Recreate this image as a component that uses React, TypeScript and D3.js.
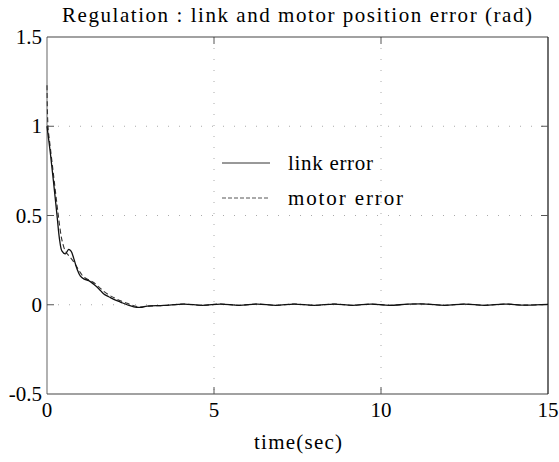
import { useEffect, useRef } from 'react';
import * as d3 from 'd3';

const linkTime = [0, 0.1, 0.2, 0.3, 0.38, 0.45, 0.55, 0.65, 0.72, 0.8, 0.9, 1.0, 1.1, 1.25, 1.4, 1.55, 1.7, 1.85, 2.0, 2.2, 2.4, 2.6, 2.8, 3.0, 3.5, 4.1, 4.65, 5.2, 5.75, 6.3, 6.85, 7.4, 8.0, 8.6, 9.15, 9.7, 10.25, 10.8, 11.35, 11.9, 12.5, 13.1, 13.7, 14.3, 15];
const linkErr = [1.0, 0.85, 0.68, 0.5, 0.36, 0.3, 0.285, 0.31, 0.30, 0.26, 0.2, 0.16, 0.145, 0.135, 0.115, 0.09, 0.06, 0.045, 0.03, 0.015, 0.0, -0.012, -0.015, -0.008, -0.004, 0.004, -0.003, 0.004, -0.003, 0.004, -0.003, 0.004, -0.003, 0.004, -0.003, 0.004, -0.003, 0.003, 0.004, -0.003, 0.004, -0.003, 0.004, -0.002, 0.002];

const motorTime = [0, 0.03, 0.1, 0.2, 0.3, 0.38, 0.45, 0.55, 0.65, 0.72, 0.8, 0.9, 1.0, 1.1, 1.25, 1.4, 1.55, 1.7, 1.85, 2.0, 2.2, 2.4, 2.6, 2.8, 3.0, 3.5, 4.1, 4.65, 5.2, 5.75, 6.3, 6.85, 7.4, 8.0, 8.6, 9.15, 9.7, 10.25, 10.8, 11.35, 11.9, 12.5, 13.1, 13.7, 14.3, 15];
const motorErr = [1.23, 1.0, 0.88, 0.72, 0.56, 0.44, 0.36, 0.3, 0.275, 0.26, 0.24, 0.21, 0.18, 0.155, 0.14, 0.125, 0.1, 0.075, 0.055, 0.04, 0.022, 0.008, -0.006, -0.012, -0.008, -0.004, 0.004, -0.003, 0.004, -0.003, 0.004, -0.003, 0.004, -0.003, 0.004, -0.003, 0.004, -0.003, 0.003, 0.004, -0.003, 0.004, -0.003, 0.004, -0.002, 0.002];

const xTicks = [0, 5, 10, 15];
const yTicks = [-0.5, 0, 0.5, 1, 1.5];
const yTickLabels = ['-0.5', '0', '0.5', '1', '1.5'];

const W = 559;
const H = 462;

export default function App() {
  const svgRef = useRef<SVGSVGElement>(null);

  useEffect(() => {
    if (!svgRef.current) return;
    const svg = d3.select(svgRef.current);
    svg.selectAll('*').remove();

    const left = 47, right = 548, top = 37, bottom = 394;
    const font = '"Times New Roman", Times, "Liberation Serif", "DejaVu Serif", serif';

    const x = d3.scaleLinear().domain([0, 15]).range([left, right]);
    const y = d3.scaleLinear().domain([-0.5, 1.5]).range([bottom, top]);

    svg.append('rect').attr('width', W).attr('height', H).attr('fill', '#fff');

    // grid (sparse dots)
    const grid = svg.append('g').attr('stroke', '#aaa').attr('stroke-width', 1).attr('stroke-dasharray', '1,10');
    [0, 0.5, 1].forEach(v => {
      grid.append('line').attr('x1', left).attr('x2', right).attr('y1', y(v)).attr('y2', y(v));
    });
    [5, 10].forEach(v => {
      grid.append('line').attr('x1', x(v)).attr('x2', x(v)).attr('y1', top).attr('y2', bottom);
    });

    // frame
    svg.append('line').attr('x1', left).attr('x2', left).attr('y1', top).attr('y2', bottom).attr('stroke', '#888').attr('stroke-width', 1.3);
    svg.append('line').attr('x1', left).attr('x2', right).attr('y1', bottom).attr('y2', bottom).attr('stroke', '#444').attr('stroke-width', 1.2);
    svg.append('line').attr('x1', left).attr('x2', right).attr('y1', top).attr('y2', top).attr('stroke', '#444').attr('stroke-width', 1.2);
    svg.append('line').attr('x1', right).attr('x2', right).attr('y1', top).attr('y2', bottom).attr('stroke', '#222').attr('stroke-width', 1.3);

    // inner ticks
    const tk = svg.append('g').attr('stroke', '#555').attr('stroke-width', 1);
    xTicks.slice(1, -1).forEach(v => {
      tk.append('line').attr('x1', x(v)).attr('x2', x(v)).attr('y1', bottom).attr('y2', bottom - 7);
      tk.append('line').attr('x1', x(v)).attr('x2', x(v)).attr('y1', top).attr('y2', top + 7);
    });
    yTicks.slice(1, -1).forEach(v => {
      tk.append('line').attr('x1', left).attr('x2', left + 7).attr('y1', y(v)).attr('y2', y(v));
      tk.append('line').attr('x1', right).attr('x2', right - 7).attr('y1', y(v)).attr('y2', y(v));
    });

    // tick labels
    svg.append('g').selectAll('text').data(xTicks).enter().append('text')
      .attr('x', d => x(d)).attr('y', bottom + 23)
      .attr('text-anchor', 'middle').style('font-family', font).attr('font-size', 21)
      .text(d => String(d));
    svg.append('g').selectAll('text').data(yTicks).enter().append('text')
      .attr('x', left - 5).attr('y', d => y(d) + 7)
      .attr('text-anchor', 'end').style('font-family', font).attr('font-size', 21)
      .text((d, i) => yTickLabels[i]);

    // title + x label
    svg.append('text').attr('x', 297).attr('y', 22).attr('text-anchor', 'middle')
      .style('font-family', font).attr('font-size', 21).attr('textLength', 470).attr('lengthAdjust', 'spacing')
      .text('Regulation : link and motor position error (rad)');
    svg.append('text').attr('x', 298).attr('y', 449).attr('text-anchor', 'middle')
      .style('font-family', font).attr('font-size', 21).attr('textLength', 88).attr('lengthAdjust', 'spacing')
      .text('time(sec)');

    // curves
    const line = d3.line<[number, number]>().x(d => x(d[0])).y(d => y(d[1])).curve(d3.curveCatmullRom);
    const motorPts = motorTime.map((t, i) => [t, motorErr[i]] as [number, number]);
    const linkPts = linkTime.map((t, i) => [t, linkErr[i]] as [number, number]);
    svg.append('path').attr('d', line(motorPts)).attr('fill', 'none').attr('stroke', '#333')
      .attr('stroke-width', 1.1).attr('stroke-dasharray', '5,3');
    svg.append('path').attr('d', line(linkPts)).attr('fill', 'none').attr('stroke', '#111')
      .attr('stroke-width', 1.3);

    // legend
    const lg = svg.append('g');
    lg.append('line').attr('x1', 222).attr('x2', 270).attr('y1', 163).attr('y2', 163).attr('stroke', '#333').attr('stroke-width', 1);
    lg.append('line').attr('x1', 222).attr('x2', 270).attr('y1', 198).attr('y2', 198).attr('stroke', '#555').attr('stroke-width', 1).attr('stroke-dasharray', '4,2');
    lg.append('text').attr('x', 288).attr('y', 170).style('font-family', font).attr('font-size', 21)
      .attr('textLength', 85).attr('lengthAdjust', 'spacing').text('link error');
    lg.append('text').attr('x', 288).attr('y', 205).style('font-family', font).attr('font-size', 21)
      .attr('textLength', 115).attr('lengthAdjust', 'spacing').text('motor error');
  }, []);

  return (
    <svg ref={svgRef} width={W} height={H} style={{ position: 'absolute', left: 0, top: 0 }} />
  );
}
